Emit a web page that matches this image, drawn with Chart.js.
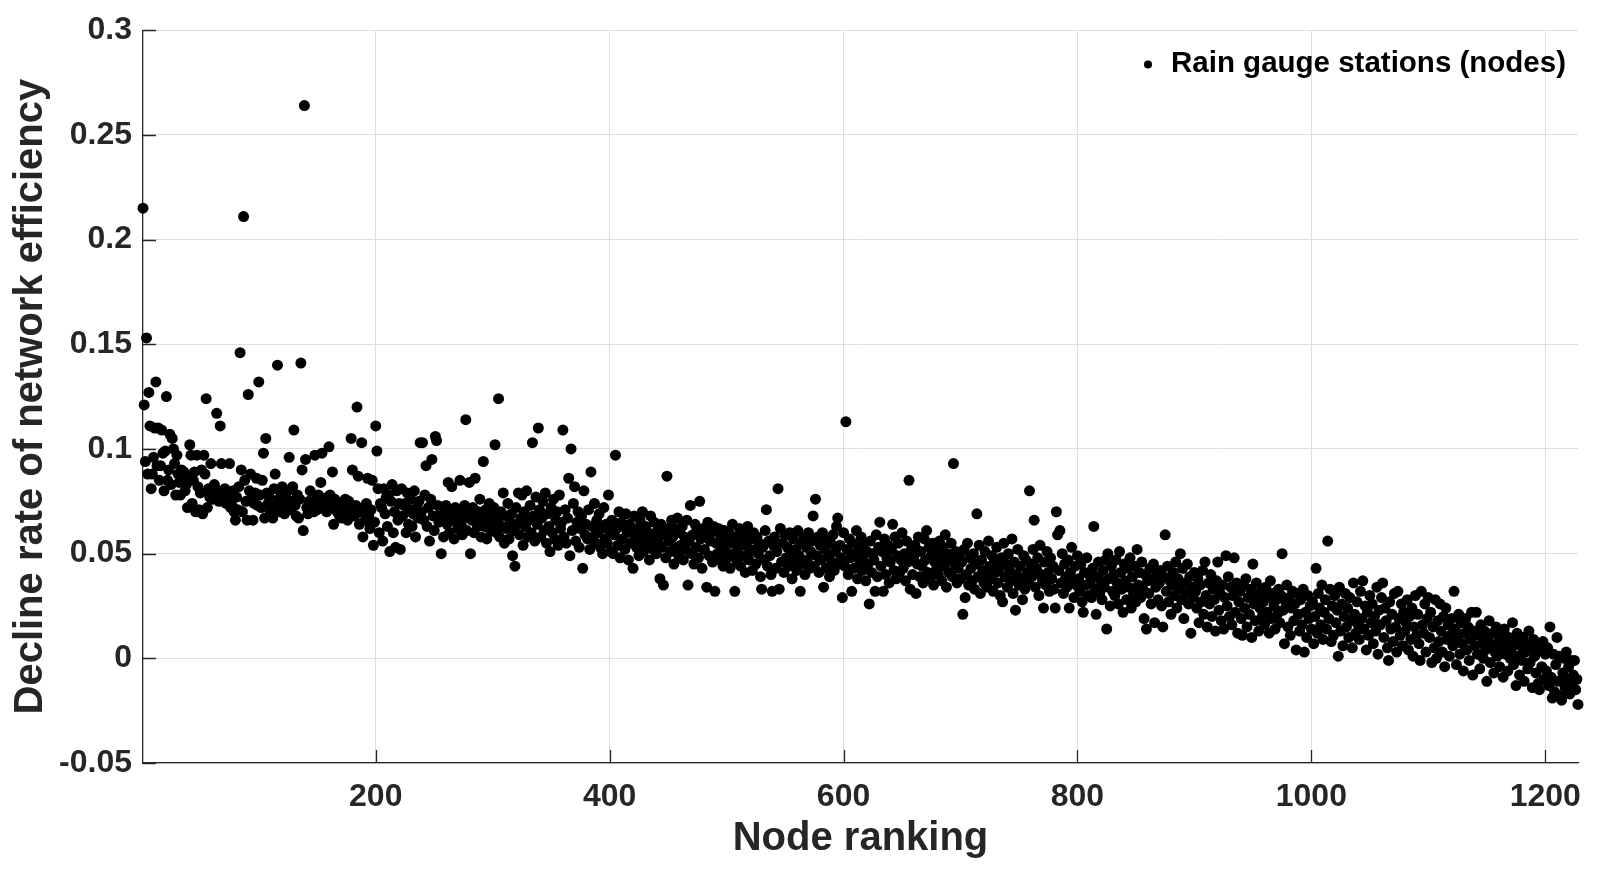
<!DOCTYPE html>
<html>
<head>
<meta charset="utf-8">
<title>Node ranking vs decline rate</title>
<script src="https://cdn.jsdelivr.net/npm/chart.js@4.4.1/dist/chart.umd.min.js"></script>
<style>
  html, body { margin: 0; padding: 0; background: #fff; }
  canvas { display: block; }
</style>
</head>
<body>
<canvas id="rankChart" width="1598" height="872"></canvas>
<script>
// decline rate of network efficiency, in node-ranking order
const decline1to100 = [
  0.215, 0.121, 0.094, 0.153, 0.088, 0.127, 0.111, 0.081, 0.088, 0.096,
  0.110, 0.132, 0.092, 0.110, 0.085, 0.092, 0.109, 0.098, 0.080, 0.099,
  0.125, 0.085, 0.090, 0.107, 0.083, 0.105, 0.100, 0.093, 0.078, 0.097,
  0.088, 0.084, 0.078, 0.090, 0.086, 0.089, 0.080, 0.083, 0.072, 0.087,
  0.102, 0.097, 0.074, 0.085, 0.089, 0.070, 0.097, 0.082, 0.071, 0.079,
  0.090, 0.069, 0.097, 0.088, 0.124, 0.072, 0.081, 0.077, 0.093, 0.079,
  0.076, 0.083, 0.078, 0.117, 0.080, 0.075, 0.111, 0.093, 0.079, 0.076,
  0.081, 0.074, 0.078, 0.076, 0.093, 0.072, 0.073, 0.080, 0.070, 0.066,
  0.077, 0.071, 0.082, 0.146, 0.090, 0.070, 0.211, 0.085, 0.075, 0.066,
  0.126, 0.080, 0.088, 0.077, 0.066, 0.074, 0.079, 0.086, 0.073, 0.132
];
const decline101to200 = [
  0.078, 0.072, 0.085, 0.098, 0.067, 0.105, 0.079, 0.074, 0.077, 0.070,
  0.068, 0.067, 0.081, 0.088, 0.073, 0.140, 0.076, 0.070, 0.079, 0.082,
  0.074, 0.069, 0.077, 0.072, 0.080, 0.096, 0.071, 0.075, 0.082, 0.109,
  0.073, 0.068, 0.078, 0.067, 0.076, 0.141, 0.090, 0.061, 0.264, 0.095,
  0.072, 0.069, 0.075, 0.080, 0.074, 0.073, 0.070, 0.097, 0.076, 0.071,
  0.078, 0.073, 0.084, 0.098, 0.072, 0.075, 0.073, 0.070, 0.077, 0.101,
  0.078, 0.074, 0.089, 0.064, 0.076, 0.072, 0.070, 0.074, 0.068, 0.073,
  0.067, 0.071, 0.072, 0.076, 0.070, 0.066, 0.075, 0.069, 0.105, 0.090,
  0.071, 0.068, 0.073, 0.120, 0.087, 0.064, 0.070, 0.103, 0.058, 0.072,
  0.066, 0.074, 0.086, 0.068, 0.062, 0.071, 0.085, 0.054, 0.065, 0.111
];
const decline201to300 = [
  0.099, 0.081, 0.060, 0.074, 0.072, 0.056, 0.081, 0.069, 0.077, 0.063,
  0.078, 0.051, 0.075, 0.083, 0.060, 0.070, 0.053, 0.080, 0.066, 0.074,
  0.052, 0.081, 0.068, 0.073, 0.074, 0.060, 0.079, 0.064, 0.071, 0.076,
  0.063, 0.069, 0.080, 0.058, 0.072, 0.067, 0.075, 0.103, 0.070, 0.103,
  0.066, 0.078, 0.092, 0.063, 0.072, 0.056, 0.076, 0.095, 0.068, 0.061,
  0.106, 0.104, 0.073, 0.065, 0.069, 0.050, 0.070, 0.058, 0.066, 0.073,
  0.064, 0.084, 0.060, 0.070, 0.082, 0.066, 0.057, 0.072, 0.068, 0.062,
  0.070, 0.085, 0.064, 0.059, 0.067, 0.073, 0.114, 0.061, 0.069, 0.084,
  0.050, 0.066, 0.072, 0.060, 0.086, 0.068, 0.063, 0.070, 0.076, 0.058,
  0.067, 0.094, 0.063, 0.071, 0.057, 0.065, 0.074, 0.061, 0.069, 0.064
];
const decline301to400 = [
  0.072, 0.102, 0.060, 0.066, 0.124, 0.058, 0.070, 0.063, 0.079, 0.055,
  0.068, 0.062, 0.074, 0.057, 0.065, 0.069, 0.049, 0.061, 0.044, 0.072,
  0.064, 0.079, 0.059, 0.067, 0.078, 0.054, 0.070, 0.063, 0.080, 0.058,
  0.066, 0.073, 0.060, 0.103, 0.068, 0.056, 0.077, 0.064, 0.110, 0.071,
  0.058, 0.067, 0.075, 0.061, 0.079, 0.055, 0.069, 0.063, 0.051, 0.072,
  0.060, 0.076, 0.057, 0.066, 0.070, 0.054, 0.078, 0.062, 0.065, 0.109,
  0.058, 0.071, 0.055, 0.067, 0.086, 0.049, 0.100, 0.061, 0.074, 0.082,
  0.056, 0.065, 0.070, 0.053, 0.062, 0.068, 0.043, 0.080, 0.059, 0.064,
  0.057, 0.071, 0.052, 0.089, 0.063, 0.058, 0.074, 0.055, 0.066, 0.060,
  0.069, 0.053, 0.062, 0.050, 0.072, 0.057, 0.064, 0.055, 0.078, 0.061
];
const decline401to500 = [
  0.051, 0.066, 0.050, 0.059, 0.097, 0.062, 0.054, 0.070, 0.048, 0.065,
  0.057, 0.063, 0.052, 0.069, 0.060, 0.047, 0.064, 0.055, 0.061, 0.043,
  0.068, 0.058, 0.053, 0.062, 0.049, 0.066, 0.056, 0.070, 0.051, 0.059,
  0.063, 0.054, 0.060, 0.047, 0.068, 0.057, 0.052, 0.065, 0.058, 0.050,
  0.061, 0.055, 0.038, 0.064, 0.053, 0.035, 0.059, 0.048, 0.087, 0.062,
  0.056, 0.051, 0.066, 0.058, 0.045, 0.062, 0.053, 0.067, 0.049, 0.060,
  0.054, 0.063, 0.047, 0.058, 0.052, 0.066, 0.035, 0.056, 0.073, 0.050,
  0.059, 0.045, 0.064, 0.053, 0.061, 0.048, 0.075, 0.057, 0.043, 0.062,
  0.052, 0.058, 0.034, 0.065, 0.049, 0.056, 0.060, 0.046, 0.063, 0.032,
  0.055, 0.050, 0.062, 0.047, 0.058, 0.053, 0.044, 0.061, 0.051, 0.057
];
const decline501to600 = [
  0.048, 0.060, 0.043, 0.055, 0.064, 0.050, 0.032, 0.058, 0.046, 0.053,
  0.062, 0.044, 0.056, 0.049, 0.059, 0.041, 0.054, 0.063, 0.047, 0.051,
  0.057, 0.042, 0.060, 0.052, 0.045, 0.058, 0.050, 0.055, 0.039, 0.033,
  0.053, 0.047, 0.061, 0.071, 0.044, 0.056, 0.049, 0.040, 0.032, 0.054,
  0.058, 0.043, 0.051, 0.081, 0.033, 0.062, 0.046, 0.055, 0.041, 0.059,
  0.048, 0.053, 0.044, 0.060, 0.050, 0.038, 0.057, 0.046, 0.052, 0.042,
  0.061, 0.049, 0.032, 0.055, 0.045, 0.058, 0.040, 0.053, 0.047, 0.060,
  0.043, 0.051, 0.056, 0.068, 0.044, 0.076, 0.049, 0.058, 0.041, 0.054,
  0.047, 0.060, 0.034, 0.052, 0.043, 0.057, 0.049, 0.039, 0.055, 0.046,
  0.059, 0.042, 0.051, 0.063, 0.067, 0.045, 0.054, 0.048, 0.029, 0.060
];
const decline601to700 = [
  0.044, 0.113, 0.052, 0.040, 0.057, 0.048, 0.032, 0.055, 0.043, 0.050,
  0.061, 0.038, 0.053, 0.046, 0.058, 0.042, 0.049, 0.055, 0.037, 0.051,
  0.045, 0.026, 0.056, 0.041, 0.050, 0.047, 0.032, 0.059, 0.039, 0.053,
  0.065, 0.044, 0.051, 0.032, 0.057, 0.040, 0.048, 0.054, 0.036, 0.046,
  0.052, 0.064, 0.042, 0.058, 0.038, 0.049, 0.055, 0.041, 0.047, 0.060,
  0.043, 0.050, 0.037, 0.056, 0.046, 0.085, 0.033, 0.052, 0.040, 0.048,
  0.054, 0.031, 0.045, 0.058, 0.039, 0.051, 0.044, 0.036, 0.057, 0.047,
  0.061, 0.041, 0.053, 0.038, 0.049, 0.055, 0.035, 0.046, 0.042, 0.052,
  0.040, 0.056, 0.048, 0.037, 0.053, 0.044, 0.059, 0.034, 0.050, 0.041,
  0.047, 0.055, 0.039, 0.093, 0.045, 0.051, 0.036, 0.043, 0.049, 0.038
];
const decline701to800 = [
  0.046, 0.021, 0.052, 0.029, 0.040, 0.055, 0.035, 0.048, 0.043, 0.037,
  0.050, 0.033, 0.045, 0.069, 0.039, 0.054, 0.031, 0.047, 0.042, 0.036,
  0.051, 0.040, 0.034, 0.056, 0.044, 0.038, 0.049, 0.032, 0.046, 0.041,
  0.053, 0.036, 0.043, 0.030, 0.048, 0.027, 0.055, 0.039, 0.045, 0.034,
  0.050, 0.042, 0.037, 0.057, 0.031, 0.046, 0.023, 0.040, 0.052, 0.035,
  0.044, 0.038, 0.028, 0.049, 0.033, 0.047, 0.041, 0.036, 0.080, 0.045,
  0.039, 0.052, 0.066, 0.034, 0.043, 0.048, 0.030, 0.054, 0.040, 0.037,
  0.024, 0.046, 0.035, 0.051, 0.041, 0.032, 0.048, 0.038, 0.044, 0.033,
  0.024, 0.070, 0.059, 0.042, 0.061, 0.036, 0.050, 0.031, 0.045, 0.039,
  0.034, 0.047, 0.024, 0.041, 0.053, 0.037, 0.029, 0.044, 0.035, 0.049
];
const decline801to900 = [
  0.038, 0.032, 0.045, 0.027, 0.022, 0.041, 0.035, 0.048, 0.030, 0.040,
  0.036, 0.029, 0.043, 0.063, 0.033, 0.021, 0.039, 0.046, 0.031, 0.037,
  0.028, 0.042, 0.034, 0.047, 0.014, 0.050, 0.038, 0.025, 0.044, 0.032,
  0.040, 0.030, 0.047, 0.036, 0.026, 0.051, 0.041, 0.033, 0.022, 0.045,
  0.037, 0.028, 0.043, 0.034, 0.048, 0.024, 0.039, 0.031, 0.044, 0.027,
  0.052, 0.035, 0.041, 0.029, 0.046, 0.033, 0.019, 0.040, 0.014, 0.037,
  0.031, 0.043, 0.026, 0.038, 0.045, 0.017, 0.034, 0.040, 0.028, 0.036,
  0.042, 0.025, 0.015, 0.039, 0.059, 0.032, 0.044, 0.027, 0.037, 0.021,
  0.035, 0.041, 0.030, 0.046, 0.024, 0.038, 0.033, 0.050, 0.028, 0.043,
  0.019, 0.036, 0.031, 0.045, 0.026, 0.039, 0.012, 0.034, 0.029, 0.041
];
const decline901to1000 = [
  0.032, 0.024, 0.038, 0.017, 0.035, 0.027, 0.042, 0.021, 0.046, 0.030,
  0.015, 0.036, 0.026, 0.040, 0.020, 0.033, 0.028, 0.013, 0.037, 0.046,
  0.023, 0.031, 0.018, 0.035, 0.014, 0.029, 0.049, 0.025, 0.039, 0.020,
  0.034, 0.016, 0.030, 0.048, 0.022, 0.036, 0.012, 0.027, 0.032, 0.019,
  0.011, 0.035, 0.024, 0.038, 0.015, 0.029, 0.021, 0.033, 0.010, 0.045,
  0.026, 0.018, 0.036, 0.030, 0.013, 0.024, 0.032, 0.020, 0.027, 0.016,
  0.034, 0.022, 0.029, 0.012, 0.037, 0.019, 0.031, 0.025, 0.014, 0.028,
  0.021, 0.033, 0.017, 0.030, 0.050, 0.023, 0.007, 0.027, 0.035, 0.015,
  0.029, 0.011, 0.024, 0.032, 0.018, 0.026, 0.004, 0.031, 0.021, 0.013,
  0.028, 0.016, 0.033, 0.003, 0.022, 0.010, 0.030, 0.019, 0.025, 0.014
];
const decline1001to1100 = [
  0.027, 0.007, 0.020, 0.043, 0.012, 0.031, 0.024, 0.016, 0.035, 0.009,
  0.022, 0.028, 0.014, 0.056, 0.019, 0.033, 0.008, 0.025, 0.011, 0.030,
  0.017, 0.023, 0.001, 0.034, 0.013, 0.026, 0.006, 0.020, 0.031, 0.015,
  0.024, 0.010, 0.029, 0.018, 0.005, 0.036, 0.021, 0.012, 0.027, 0.016,
  0.009, 0.032, 0.019, 0.037, 0.014, 0.025, 0.004, 0.022, 0.011, 0.030,
  0.017, 0.026, 0.007, 0.020, 0.013, 0.034, 0.002, 0.023, 0.016, 0.029,
  0.036, 0.010, 0.024, 0.018, 0.005, -0.001, 0.027, 0.014, 0.021, 0.008,
  0.031, 0.015, 0.003, 0.032, 0.019, 0.011, 0.026, 0.006, 0.022, 0.013,
  0.017, 0.028, 0.004, 0.020, 0.009, 0.024, 0.001, 0.015, 0.030, 0.011,
  0.021, 0.007, -0.001, 0.032, 0.016, 0.012, 0.026, 0.003, 0.019, 0.029
];
const decline1101to1200 = [
  0.010, 0.022, -0.002, 0.015, 0.005, 0.028, 0.000, 0.018, 0.008, 0.026,
  0.013, 0.003, 0.020, -0.004, 0.024, 0.009, 0.016, 0.001, 0.011, 0.019,
  0.006, 0.032, 0.014, -0.003, 0.010, 0.021, 0.002, 0.017, 0.007, -0.006,
  0.012, 0.019, 0.004, 0.015, -0.001, 0.009, 0.022, -0.008, 0.013, 0.006,
  0.022, 0.002, 0.011, -0.005, 0.016, 0.007, 0.000, 0.013, 0.004, -0.011,
  0.009, 0.018, -0.002, 0.006, 0.012, -0.007, 0.003, 0.015, 0.001, 0.008,
  -0.004, 0.011, 0.005, -0.009, 0.014, 0.002, 0.007, -0.006, 0.010, 0.000,
  0.004, 0.017, -0.003, 0.008, -0.013, 0.012, 0.001, -0.008, 0.006, -0.001,
  0.010, -0.011, 0.003, 0.007, -0.005, 0.013, -0.002, 0.005, -0.014, 0.009,
  0.001, -0.007, 0.006, -0.012, -0.015, 0.004, -0.004, 0.008, -0.010, 0.002
];
const decline1201to1228 = [
  -0.006, 0.005, -0.013, 0.015, -0.009, -0.019, 0.002, -0.016, -0.003, 0.010,
  -0.011, 0.001, -0.018, -0.020, -0.007, 0.000, -0.014, 0.003, -0.010, -0.004,
  -0.017, -0.001, -0.012, -0.008, -0.001, -0.015, -0.010, -0.022
];

const xTicks = [200, 400, 600, 800, 1000, 1200];
const yTicks = [-0.05, 0, 0.05, 0.1, 0.15, 0.2, 0.25, 0.3];
const seriesLabel = 'Rain gauge stations (nodes)';

const declineRate = [].concat(
  decline1to100, decline101to200, decline201to300, decline301to400,
  decline401to500, decline501to600, decline601to700, decline701to800,
  decline801to900, decline901to1000, decline1001to1100, decline1101to1200,
  decline1201to1228
);
// node ranking is simply the position in the list
const points = declineRate.map((v, i) => ({ x: i + 1, y: v }));

const FONT = "'Liberation Sans', Arial, Helvetica, sans-serif";
const AXIS_COLOR = '#262626';

// MATLAB style inward tick marks + the legend in the top right
const matlabBits = {
  id: 'matlabBits',
  afterDraw(chart) {
    const ctx = chart.ctx;
    const area = chart.chartArea;
    const xs = chart.scales.x, ys = chart.scales.y;
    ctx.save();
    ctx.strokeStyle = AXIS_COLOR;
    ctx.lineWidth = 1.3;
    ctx.beginPath();
    xTicks.forEach(v => {
      const px = Math.round(xs.getPixelForValue(v)) + 0.5;
      ctx.moveTo(px, area.bottom);
      ctx.lineTo(px, area.bottom - 13);
    });
    yTicks.forEach(v => {
      const py = Math.round(ys.getPixelForValue(v)) + 0.5;
      ctx.moveTo(area.left, py);
      ctx.lineTo(area.left + 13, py);
    });
    ctx.stroke();

    // legend
    ctx.fillStyle = '#000';
    ctx.beginPath();
    ctx.arc(1148, 64.5, 4, 0, Math.PI * 2);
    ctx.fill();
    ctx.font = 'bold 29.5px ' + FONT;
    ctx.textBaseline = 'middle';
    ctx.textAlign = 'left';
    ctx.fillText(seriesLabel, 1171, 64);
    ctx.restore();
  }
};

const ctx = document.getElementById('rankChart').getContext('2d');
new Chart(ctx, {
  type: 'scatter',
  data: {
    datasets: [{
      label: seriesLabel,
      data: points,
      backgroundColor: '#000',
      borderWidth: 0,
      pointRadius: 5.5,
      pointHoverRadius: 5.5,
      clip: false
    }]
  },
  options: {
    responsive: false,
    animation: false,
    devicePixelRatio: 1,
    layout: { padding: { top: 24, right: 20, left: 0, bottom: 0 } },
    plugins: {
      legend: { display: false },
      tooltip: { enabled: false }
    },
    scales: {
      x: {
        type: 'linear',
        min: 1,
        max: 1228,
        afterBuildTicks: s => { s.ticks = xTicks.map(v => ({ value: v })); },
        afterFit: s => { s.height = 109; },
        grid: { color: '#dedede', lineWidth: 1, drawTicks: false },
        border: { display: true, color: AXIS_COLOR, width: 1.3 },
        ticks: {
          padding: 15,
          maxRotation: 0,
          color: AXIS_COLOR,
          font: { family: FONT, size: 32, weight: 'bold' },
          callback: v => String(v)
        },
        title: {
          display: true,
          text: 'Node ranking',
          color: AXIS_COLOR,
          padding: { top: 0, bottom: 9 },
          font: { family: FONT, size: 40, weight: 'bold' }
        }
      },
      y: {
        type: 'linear',
        min: -0.05,
        max: 0.3,
        afterBuildTicks: s => { s.ticks = yTicks.map(v => ({ value: v })); },
        afterFit: s => { s.width = 143; },
        grid: { color: '#dedede', lineWidth: 1, drawTicks: false },
        border: { display: true, color: AXIS_COLOR, width: 1.3 },
        ticks: {
          padding: 11,
          color: AXIS_COLOR,
          font: { family: FONT, size: 32, weight: 'bold' },
          callback: v => String(Math.round(v * 100) / 100)
        },
        title: {
          display: true,
          text: 'Decline rate of network efficiency',
          color: AXIS_COLOR,
          padding: { top: 7, bottom: 0 },
          font: { family: FONT, size: 40, weight: 'bold' }
        }
      }
    }
  },
  plugins: [matlabBits]
});
</script>
</body>
</html>
